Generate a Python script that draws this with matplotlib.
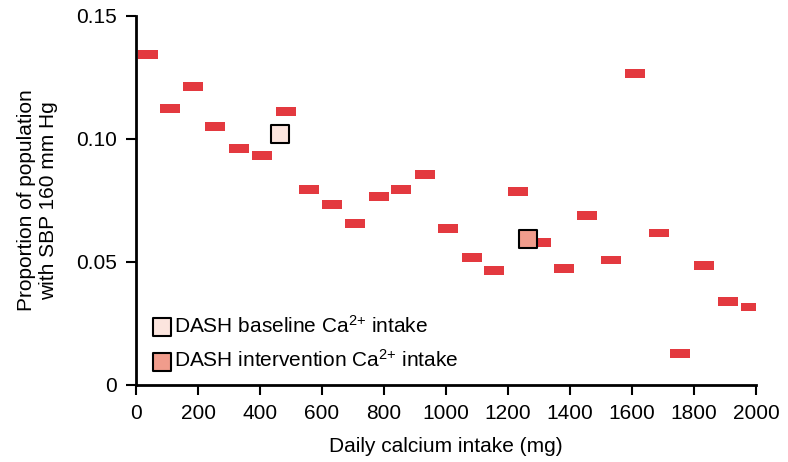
import numpy as np
import matplotlib
matplotlib.use('Agg')
import matplotlib.pyplot as plt

plt.rcParams['font.family'] = ['Liberation Sans', 'DejaVu Sans']
plt.rcParams['mathtext.fontset'] = 'custom'
plt.rcParams['mathtext.rm'] = 'Liberation Sans'
plt.rcParams['mathtext.it'] = 'Liberation Sans:italic'

# 各カルシウム摂取量の区間の中心 (mg) と収縮期血圧160 mm Hg以上の割合
intake = [39, 110, 184, 255, 332, 406, 484, 558, 632, 706, 784, 855, 932, 1006,
          1084, 1155, 1232, 1306, 1381, 1455, 1532, 1610, 1687, 1755, 1832, 1910, 1984]
proportion = [0.1344, 0.1124, 0.1214, 0.1051, 0.0961, 0.0932, 0.1112, 0.0794, 0.0733,
              0.0655, 0.0765, 0.0794, 0.0855, 0.0635, 0.0517, 0.0464, 0.0786, 0.0578,
              0.0472, 0.0688, 0.0508, 0.1267, 0.0618, 0.0129, 0.0484, 0.0341, 0.0317]

# DASHの基準値と介入後の値
baseline_x, baseline_y = [463], [0.1021]
interv_x, interv_y = [1263], [0.0593]

fig = plt.figure(figsize=(7.88, 4.62), dpi=100)
ax = fig.add_axes([0.1726, 0.1667, 0.7868, 0.7987])

bar_h = 0.0036
ax.bar(intake, bar_h, bottom=np.array(proportion) - bar_h / 2, width=64,
       color='#E3393F', zorder=2)

ax.scatter(baseline_x, baseline_y, marker='s', s=180, color='#FCE5DE',
           edgecolors='black', linewidths=1.5, zorder=3,
           label='DASH baseline Ca$^{\\mathregular{2{+}}}$ intake')
ax.scatter(interv_x, interv_y, marker='s', s=180, color='#F09C8C',
           edgecolors='black', linewidths=1.5, zorder=3,
           label='DASH intervention Ca$^{\\mathregular{2{+}}}$ intake')

ax.set_xlim(0, 2000)
ax.set_ylim(0, 0.15)
ax.set_xticks(range(0, 2001, 200))
ax.set_yticks([0, 0.05, 0.10, 0.15])
ax.set_yticklabels(['0', '0.05', '0.10', '0.15'])

for s in ['top', 'right']:
    ax.spines[s].set_visible(False)
for s in ['left', 'bottom']:
    ax.spines[s].set_linewidth(2)
ax.tick_params(width=1.5, length=7, labelsize=15, pad=7)

ax.set_xlabel('Daily calcium intake (mg)', fontsize=15, labelpad=10)
ax.set_ylabel('Proportion of population\nwith SBP 160 mm Hg', fontsize=15, labelpad=13)

ax.legend(loc='lower left', bbox_to_anchor=(0.011, 0.015), frameon=False,
          fontsize=15, handlelength=1.0, handletextpad=0.1, labelspacing=0.6,
          borderaxespad=0)

fig.savefig('out.png', dpi=100)
